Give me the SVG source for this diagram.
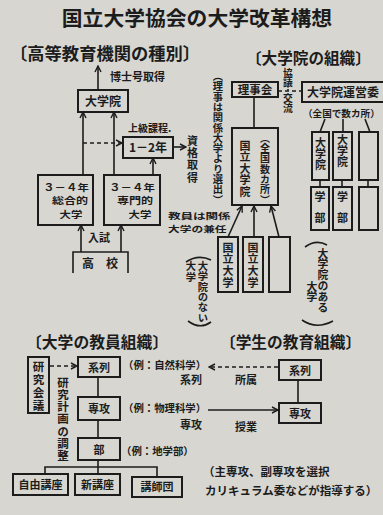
<svg xmlns="http://www.w3.org/2000/svg" width="383" height="515" viewBox="0 0 383 515">
<defs>
<style>
text{font-family:"Noto Sans CJK JP","Noto Sans CJK SC",sans-serif;fill:#1c1c1c;font-weight:700}
.h{font-weight:700}
.m{text-anchor:middle}
.v{writing-mode:vertical-rl}
.bx{fill:none;stroke:#1c1c1c;stroke-width:2}
.ln{fill:none;stroke:#1c1c1c;stroke-width:1.6}
.ds{stroke-dasharray:4 3}
</style>
<marker id="ah" markerWidth="8" markerHeight="8" refX="7" refY="4" orient="auto" markerUnits="userSpaceOnUse"><path d="M1,1 L7,4 L1,7" fill="none" stroke="#1c1c1c" stroke-width="1.4"/></marker>
</defs>
<rect width="383" height="515" fill="#d7d6d1"/>
<text id="title" x="197" y="26" class="m h" font-size="20.8">国立大学協会の大学改革構想</text>

<g id="section-higher-ed">
<text x="10" y="60" font-size="17.3">〔高等教育機関の種別〕</text>
<text x="110" y="81" font-size="11">博士号取得</text>
</g>
<g id="n-daigakuin"><rect class="bx" x="78" y="90" width="50" height="22"/><text x="103" y="106" class="m" font-size="12">大学院</text></g>
<g id="n-jokyu"><text x="128" y="132" font-size="10">上級課程.</text><rect class="bx" x="123" y="137" width="50" height="21"/><text x="148" y="152" class="m" font-size="12">1－2年</text></g>
<g id="n-shikaku"><text x="192.5" y="135" class="v" font-size="11" letter-spacing="1.3">資格取得</text></g>
<g id="n-sogo"><rect class="bx" x="38" y="175" width="55" height="50"/>
<text class="m" font-size="9.5" transform="translate(66,190.5) scale(1.2,1)">３－４年</text>
<text class="m" font-size="9.5" transform="translate(70,204) scale(1.27,1)">総合的</text>
<text class="m" font-size="9.5" transform="translate(71,218) scale(1.2,1)">大学</text></g>
<g id="n-senmon"><rect class="bx" x="104" y="175" width="56" height="50"/>
<text class="m" font-size="9.5" transform="translate(132,190.5) scale(1.2,1)">３－４年</text>
<text class="m" font-size="9.5" transform="translate(135,204) scale(1.27,1)">専門的</text>
<text class="m" font-size="9.5" transform="translate(140,218) scale(1.2,1)">大学</text></g>
<g id="n-koko"><path class="ln" d="M73,273 V252 H128 V273"/><text x="100" y="268" class="m" font-size="12">高　校</text></g>
<text x="99" y="242" class="m" font-size="11">入試</text>

<g id="section-grad">
<text x="246" y="64" font-size="15.6">〔大学院の組織〕</text>
<text x="218" y="71" class="v" font-size="10.3">（理事は関係大学より選出）</text>
<text class="v" font-size="9.8"><tspan x="288" y="68">協議</tspan><tspan x="288" y="93">交流</tspan></text>
</g>
<g id="n-rijikai"><rect class="bx" x="232" y="82" width="46" height="15"/><text x="255" y="94" class="m" font-size="11.5">理事会</text></g>
<g id="n-kokuritsu-in"><rect class="bx" x="232" y="128" width="46" height="77"/>
<text x="245" y="140" class="v" font-size="11" letter-spacing="0.6">国立大学院</text>
<text x="265" y="133" class="v" font-size="10" letter-spacing="0.3">（全国数カ所）</text></g>
<g id="n-unei"><rect class="bx" x="302" y="82" width="90" height="20"/><text x="307" y="97" font-size="12">大学院運営委</text>
<text x="303" y="117" font-size="9.6">（全国で数カ所）</text></g>
<g id="n-col1"><rect class="bx" x="312" y="132" width="17" height="48"/><text x="320.5" y="137" class="v" font-size="11">大学院</text>
<rect class="bx" x="311" y="187" width="18" height="43"/><text class="m" font-size="11"><tspan x="320" y="201">学</tspan><tspan x="320" y="222">部</tspan></text></g>
<g id="n-col2"><rect class="bx" x="333" y="132" width="19" height="48"/><text x="342.5" y="134" class="v" font-size="11">大学院</text>
<rect class="bx" x="333" y="187" width="19" height="43"/><text class="m" font-size="11"><tspan x="342.5" y="201">学</tspan><tspan x="342.5" y="222">部</tspan></text></g>
<g id="n-col3"><rect class="bx" x="359" y="132" width="19" height="48"/><rect class="bx" x="359" y="187" width="19" height="43"/></g>
<g id="n-aru"><path class="ln" d="M305,247 Q316,239 327,245"/><text class="v" font-size="10.8"><tspan x="323" y="248">大学院のある</tspan><tspan x="312" y="281">大学</tspan></text><path class="ln" d="M302,320 Q316,330 333,321"/></g>
<g id="n-kokuritsu"><rect class="bx" x="218" y="237" width="20" height="55"/><text x="228" y="242" class="v" font-size="11" letter-spacing="0.8">国立大学</text>
<rect class="bx" x="243" y="237" width="20" height="55"/><text x="253" y="242" class="v" font-size="11" letter-spacing="0.8">国立大学</text>
<rect class="bx" x="269" y="237" width="21" height="55"/></g>
<g id="n-kennin">
<text font-size="8.2" transform="translate(168,219) scale(1.53,1)">教員は関係</text>
<text font-size="8.2" transform="translate(168,231.5) scale(1.43,1)">大学の兼任</text></g>
<g id="n-nai"><path class="ln" d="M186,262 Q198,254 211,260"/><text class="v" font-size="10.3"><tspan x="203" y="261">大学院のない</tspan><tspan x="191" y="261">大学</tspan></text><path class="ln" d="M188,321 Q200,330 211,322"/></g>

<g id="section-faculty">
<text x="26" y="348" font-size="15.8">〔大学の教員組織〕</text>
<text x="63" y="377" class="v" font-size="11.5" letter-spacing="0.6">研究計画の調整</text>
</g>
<g id="n-kenkyukaigi"><rect class="bx" x="28" y="357" width="21" height="56"/><text x="38.5" y="361" class="v" font-size="11.5" letter-spacing="1.5">研究会議</text></g>
<g id="n-keiretsu-f"><rect class="bx" x="78" y="357" width="42" height="20"/><text x="99" y="371.5" class="m" font-size="11">系列</text></g>
<g id="n-senko-f"><rect class="bx" x="78" y="397" width="42" height="23"/><text x="99" y="413" class="m" font-size="11">専攻</text></g>
<g id="n-bu"><rect class="bx" x="78" y="438" width="42" height="22"/><text x="99" y="453.5" class="m" font-size="11">部</text></g>
<g id="n-jiyu"><rect class="bx" x="13" y="474" width="55" height="21"/><text x="40.5" y="489" class="m" font-size="11">自由講座</text></g>
<g id="n-shin"><rect class="bx" x="75" y="474" width="45" height="21"/><text x="97.5" y="489" class="m" font-size="11">新講座</text></g>
<g id="n-koshi"><rect class="bx" x="132" y="477" width="50" height="20"/><text x="157" y="491" class="m" font-size="11">講師団</text></g>
<g id="n-examples">
<text font-size="10.4"><tspan x="123" y="369">（例：自然科学）</tspan><tspan x="180" y="384" font-size="11">系列</tspan></text>
<text font-size="10.4"><tspan x="123" y="412">（例：物理科学）</tspan><tspan x="180" y="429" font-size="11">専攻</tspan></text>
<text x="121" y="455" font-size="10.4">（例：地学部）</text>
</g>

<g id="section-student">
<text x="220" y="348" font-size="15.7">〔学生の教育組織〕</text>
<text x="235" y="384" font-size="11">所属</text>
<text x="235" y="431" font-size="11">授業</text>
<text font-size="11.5"><tspan x="203" y="476">（主専攻、副専攻を選択</tspan><tspan x="205" y="495">カリキュラム委などが指導する）</tspan></text>
</g>
<g id="n-keiretsu-s"><rect class="bx" x="279" y="360" width="42" height="20"/><text x="300" y="374.5" class="m" font-size="11">系列</text></g>
<g id="n-senko-s"><rect class="bx" x="279" y="403" width="42" height="20"/><text x="300" y="417.5" class="m" font-size="11">専攻</text></g>

<g id="connectors">
<line class="ln" x1="98" y1="90" x2="98" y2="66" marker-end="url(#ah)"/>
<line class="ln" x1="83" y1="175" x2="83" y2="112" marker-end="url(#ah)"/>
<line class="ln" x1="114" y1="175" x2="114" y2="112" marker-end="url(#ah)"/>
<line class="ln ds" x1="83" y1="143" x2="122" y2="143" marker-end="url(#ah)"/>
<line class="ln" x1="173" y1="147" x2="186" y2="147" marker-end="url(#ah)"/>
<line class="ln" x1="153" y1="175" x2="153" y2="158" marker-end="url(#ah)"/>
<line class="ln" x1="81" y1="252" x2="81" y2="225" marker-end="url(#ah)"/>
<line class="ln" x1="121" y1="252" x2="121" y2="225" marker-end="url(#ah)"/>
<line class="ln" x1="254" y1="97" x2="254" y2="128"/>
<line class="ln ds" x1="278" y1="91" x2="302" y2="91"/>
<line class="ln" x1="288" y1="86" x2="288" y2="92" stroke-dasharray="1.5 1.5"/>
<line class="ln" x1="325" y1="119" x2="320" y2="132"/>
<line class="ln" x1="343" y1="119" x2="343" y2="132"/>
<line class="ln" x1="365" y1="119" x2="370" y2="132"/>
<line class="ln" x1="320" y1="180" x2="320" y2="187"/>
<line class="ln" x1="342" y1="180" x2="342" y2="187"/>
<line class="ln" x1="368" y1="180" x2="368" y2="187"/>
<line class="ln" x1="228" y1="237" x2="242" y2="206" marker-end="url(#ah)"/>
<line class="ln" x1="254" y1="237" x2="254" y2="206" marker-end="url(#ah)"/>
<line class="ln" x1="279" y1="237" x2="271" y2="206" marker-end="url(#ah)"/>
<line class="ln ds" x1="50" y1="366" x2="77" y2="366" marker-end="url(#ah)"/>
<line class="ln" x1="98" y1="377" x2="98" y2="397"/>
<line class="ln" x1="98" y1="420" x2="98" y2="438"/>
<line class="ln" x1="98" y1="460" x2="98" y2="474"/>
<path class="ln" d="M45,474 V467 H157 V477"/>
<line class="ln ds" x1="278" y1="367" x2="209" y2="367" marker-end="url(#ah)"/>
<line class="ln" x1="208" y1="410" x2="278" y2="410" marker-end="url(#ah)"/>
<line class="ln" x1="298" y1="380" x2="298" y2="403"/>
</g>
</svg>
